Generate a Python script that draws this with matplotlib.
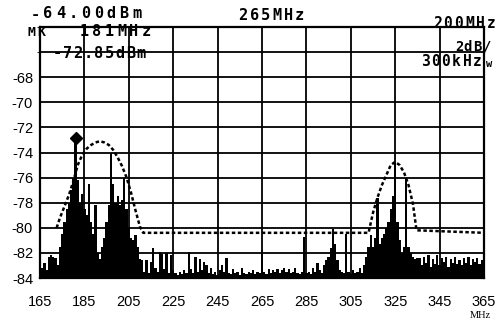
import numpy as np
import matplotlib
matplotlib.use("Agg")
import matplotlib.pyplot as plt


# spectrum trace, one reading per MHz from 165 to 365 MHz (dBm)
FREQS = list(range(165, 366))
LEVELS = [
    # 165 - 174
    -82.6, -83.2, -82.8, -83.4, -82.3, -82.2, -82.3, -82.4, -83.0, -81.5,
    # 175 - 190 (first cluster, marker at 181)
    -80.5, -79.5, -78.5, -78.0, -77.0, -76.0, -72.85, -76.2, -78.0, -77.3,
    -78.5, -79.0, -76.5, -79.5, -80.5, -78.2,
    # 191 - 210 (second cluster)
    -82.0, -82.5, -81.5, -80.8, -79.5, -78.2, -74.0, -76.5, -78.0, -77.5,
    -78.2, -77.8, -76.0, -78.5, -80.0, -80.8, -81.0, -80.6, -81.5, -82.5,
    # 211 - 260
    -82.6, -83.5, -82.6, -83.6, -82.7, -81.6, -83.2, -83.5, -81.9, -82.1,
    -83.3, -82.0, -83.6, -82.2, -83.4, -83.6, -83.8, -83.5, -83.7, -83.4,
    -83.6, -81.9, -83.3, -83.6, -82.3, -83.5, -82.5, -83.4, -82.7, -83.0,
    -83.6, -83.2, -83.7, -83.5, -83.8, -83.4, -83.0, -83.5, -82.4, -83.6,
    -83.7, -83.3, -83.6, -83.5, -83.8, -83.2, -83.6, -83.7, -83.5, -83.6,
    # 261 - 310
    -83.4, -83.7, -83.5, -83.6, -81.8, -83.5, -83.7, -83.3, -83.6, -83.4,
    -83.5, -83.3, -83.6, -83.4, -83.2, -83.5, -83.3, -83.6, -83.5, -83.2,
    -83.6, -83.7, -83.5, -80.7, -83.6, -83.5, -83.7, -83.2, -83.5, -82.8,
    -83.4, -83.6, -83.0, -82.6, -82.3, -81.6, -80.1, -81.3, -82.6, -83.4,
    -83.5, -83.6, -80.5, -83.5, -83.7, -83.4, -83.6, -83.5, -83.2, -83.6,
    # 311 - 335 (third cluster)
    -83.0, -82.3, -81.5, -80.6, -81.5, -80.8, -77.6, -81.3, -80.8, -80.5,
    -80.0, -79.5, -78.5, -77.5, -74.8, -79.5, -81.0, -82.0, -81.5, -76.0,
    -81.5, -82.0, -82.3, -82.5, -82.4,
    # 336 - 365
    -82.4, -83.0, -82.3, -82.8, -82.2, -83.1, -82.5, -82.9, -82.2, -83.0,
    -82.4, -82.7, -82.3, -83.1, -82.5, -82.8, -82.3, -82.9, -82.6, -83.0,
    -82.4, -82.8, -82.3, -83.0, -82.5, -82.7, -82.4, -82.9, -82.6, -82.8,
]

# dashed limit mask
MASK_F = [172.5, 174, 176, 178, 180, 182, 184, 186, 188, 190, 192, 194, 196,
          198, 200, 202, 204, 206, 208, 210, 211.5,
          313, 315, 317, 319, 321, 323, 325, 327, 329, 331, 333, 334.6, 365]
MASK_DB = [-80.0, -79.2, -78.3, -77.4, -76.3, -75.0, -74.2, -73.7, -73.4,
           -73.2, -73.1, -73.2, -73.4, -73.8, -74.4, -75.1, -76.0, -77.2, -78.6,
           -79.9, -80.4,
           -80.4, -78.8, -77.6, -76.6, -75.8, -75.0, -74.75, -75.0, -75.6, -76.6,
           -78.1, -80.2, -80.4]

MARKER_F = 181
MARKER_DB = -72.85

X_TICKS = [165, 185, 205, 225, 245, 265, 285, 305, 325, 345, 365]
Y_TICKS = [-84, -82, -80, -78, -76, -74, -72, -70, -68]

W, H = 503, 326


def lcd_text(fig, x, y, s, pitch, size):
    # analyser screen text: fixed pitch characters, positions in pixels
    for i, ch in enumerate(s):
        fig.text((x + i * pitch) / W, 1 - y / H, ch, ha="center", va="center",
                 fontsize=size, family="DejaVu Sans Mono", fontweight="bold")


fig = plt.figure(figsize=(W / 100, H / 100), dpi=100)
ax = fig.add_axes([40 / W, 1 - 278 / H, 444 / W, 251 / H])

freqs = np.array(FREQS)
levels = np.array(LEVELS)
ax.bar(freqs, levels + 84, bottom=-84, width=1.0, color="black", lw=0, zorder=2)

ax.plot(MASK_F, MASK_DB, color="black", lw=1.8, linestyle=(0, (1.4, 1.0)), zorder=3)

ax.plot([MARKER_F], [MARKER_DB], marker="D", ms=6, color="black", zorder=4)

ax.set_xlim(165, 365)
ax.set_ylim(-84, -64)
ax.set_xticks(X_TICKS)
ax.set_xticklabels([str(t) for t in X_TICKS])
ax.set_yticks(Y_TICKS)
ax.set_yticklabels(["-%d" % abs(t) for t in Y_TICKS])
ax.set_yticks([-66, -64], minor=True)
ax.grid(True, which="both", color="black", lw=1.3, zorder=1)
ax.set_axisbelow(True)
ax.tick_params(length=0, labelsize=10.5)
ax.tick_params(axis="x", pad=12)
ax.tick_params(axis="y", pad=5)
for lab in ax.get_xticklabels() + ax.get_yticklabels():
    lab.set_family("Liberation Sans")
for sp in ax.spines.values():
    sp.set_linewidth(1.6)

fig.text(480 / W, 1 - 315 / H, "MHz", ha="center", va="center",
         fontsize=7.5, family="Liberation Serif")

lcd_text(fig, 35, 14, "-64.00dBm", 12.7, 11)
lcd_text(fig, 243, 15, "265MHz", 11.3, 11)
lcd_text(fig, 437, 23, "200MHz", 10.8, 10.5)
lcd_text(fig, 459, 47, "2dB/", 9, 10)
lcd_text(fig, 425, 61, "300kHz", 10.5, 10.5)
lcd_text(fig, 489, 64, "w", 8, 7.5)
lcd_text(fig, 32, 32, "MK", 9.5, 9.5)
lcd_text(fig, 84, 32, "181MHz", 12.5, 11)
lcd_text(fig, 57, 53, "-72.85dBm", 10.5, 11)

fig.savefig("out.png", dpi=100)
